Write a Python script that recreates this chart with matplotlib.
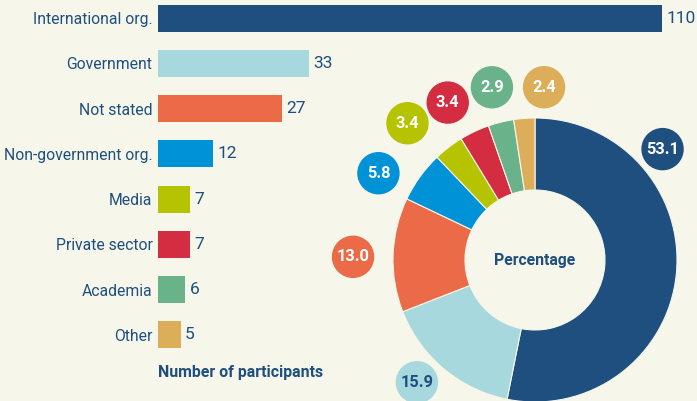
import numpy as np
import matplotlib
matplotlib.use("Agg")
import matplotlib.pyplot as plt
from matplotlib.patches import Circle

plt.rcParams['font.family'] = ['Roboto', 'DejaVu Sans']

# data
categories = ["International org.", "Government", "Not stated", "Non-government org.",
              "Media", "Private sector", "Academia", "Other"]
participants = [110, 33, 27, 12, 7, 7, 6, 5]
percentages = [53.1, 15.9, 13.0, 5.8, 3.4, 3.4, 2.9, 2.4]
pct_labels = ["53.1", "15.9", "13.0", "5.8", "3.4", "3.4", "2.9", "2.4"]
colors = ["#1e4f7e", "#a6d8dd", "#eb6b48", "#0092d6", "#b5c300", "#d42c41", "#6ab38a", "#dcae5a"]

bg = "#f6f6ea"
navy = "#1e4f7e"

W, H = 697, 401
fig = plt.figure(figsize=(W / 100, H / 100), dpi=100, facecolor=bg)

# ---- bar chart
ax = fig.add_axes([158 / W, 39 / H, 504 / W, 362 / H])
ax.set_facecolor("none")
y = np.arange(len(categories))
ax.barh(y, participants, height=0.6, color=colors)
ax.set_xlim(0, 110)
ax.set_ylim(7.6, -0.4)
ax.set_yticks(y)
ax.set_yticklabels(categories, fontsize=11.3, color=navy)
ax.tick_params(axis="y", length=0, pad=4)
ax.set_xticks([])
for s in ax.spines.values():
    s.set_visible(False)
for i, v in enumerate(participants):
    ax.annotate(str(v), (v, i), xytext=(3, 0), textcoords="offset points",
                va="center", ha="left", fontsize=12.5, color=navy, annotation_clip=False)
fig.text(158 / W, 1 - 372 / H, "Number of participants", fontsize=11.4,
         fontweight="bold", color=navy, va="center", ha="left")

# ---- donut (pixel coordinates)
ax2 = fig.add_axes([0, 0, 1, 1])
ax2.set_facecolor("none")
cx, cy = 535, H - 260
R = 142
ax2.pie(percentages, colors=colors, startangle=90, counterclock=False,
        center=(cx, cy), radius=R,
        wedgeprops=dict(width=R - 70, edgecolor=bg, linewidth=0.8))
ax2.set_xlim(0, W)
ax2.set_ylim(0, H)
ax2.set_aspect("auto")
ax2.axis("off")
ax2.text(cx, cy, "Percentage", ha="center", va="center", fontsize=11.3,
         fontweight="bold", color=navy)

# label bubble layout (angle in degrees, distance from centre in px)
label_angles = [41, 226, 179, 151, 133, 119, 104, 87]
label_dist = [169, 170, 182, 179, 187, 180, 178, 173]
for i, p in enumerate(pct_labels):
    a = np.radians(label_angles[i])
    bx = cx + label_dist[i] * np.cos(a)
    by = cy + label_dist[i] * np.sin(a)
    ax2.add_patch(Circle((bx, by), 20.5, color=colors[i], clip_on=False))
    tc = navy if i == 1 else "white"
    ax2.text(bx, by, p, ha="center", va="center", fontsize=11.8, fontweight="bold", color=tc)

fig.savefig("out.png", dpi=100, facecolor=bg)
